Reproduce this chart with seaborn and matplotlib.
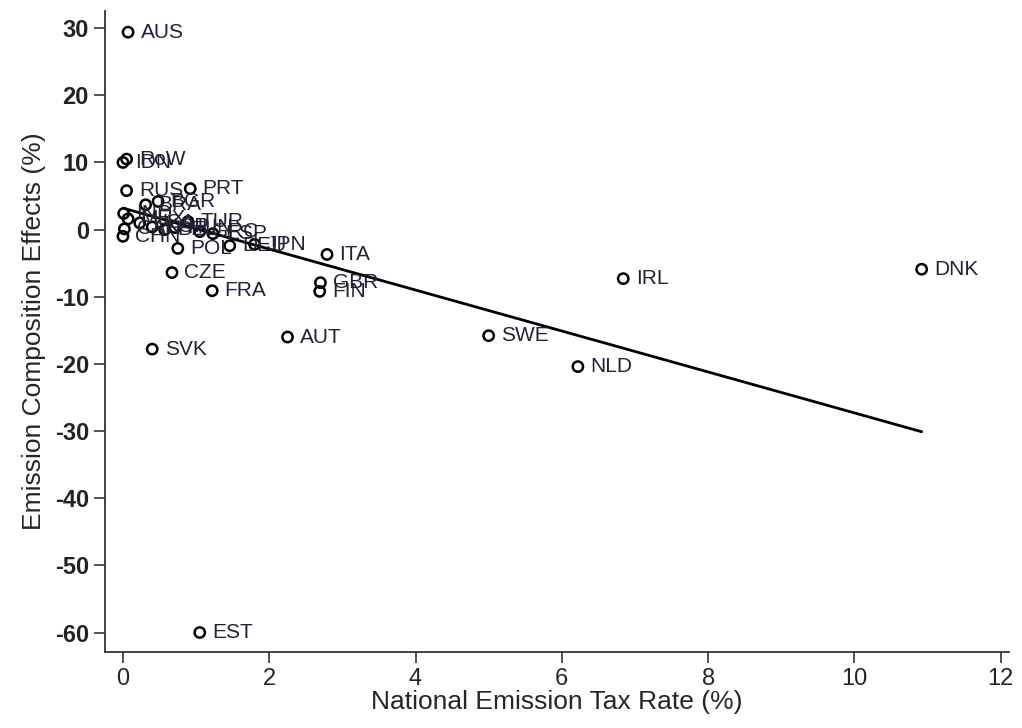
import matplotlib
matplotlib.use("Agg")
import matplotlib.pyplot as plt
import seaborn as sns
import pandas as pd

countries = ["AUS", "RoW", "IDN", "RUS", "PRT", "BGR", "BRA", "IND", "MEX", "CAN",
             "CHN", "USA", "KOR", "BEL", "HUN", "TUR", "GRC", "ESP", "POL", "DEU",
             "JPN", "ITA", "CZE", "FRA", "GBR", "FIN", "SVK", "AUT", "SWE", "NLD",
             "IRL", "DNK", "EST"]
tax_rate = [0.07, 0.05, 0.0, 0.05, 0.92, 0.48, 0.31, 0.01, 0.07, 0.02,
            0.0, 0.23, 0.40, 0.57, 0.71, 0.89, 1.05, 1.23, 0.75, 1.46,
            1.80, 2.79, 0.67, 1.22, 2.70, 2.69, 0.40, 2.25, 5.0, 6.22,
            6.84, 10.92, 1.05]
effect = [29.4, 10.5, 10.0, 5.8, 6.1, 4.2, 3.7, 2.4, 1.6, 0.1,
          -1.0, 1.0, 0.4, 0.0, 0.3, 1.2, -0.3, -0.6, -2.8, -2.4,
          -2.2, -3.7, -6.4, -9.1, -7.9, -9.2, -17.8, -16.0, -15.8, -20.4,
          -7.3, -5.9, -60.0]
fit_x = [0.0, 10.92]
fit_y = [3.2, -30.1]

x_ticks = [0, 2, 4, 6, 8, 10, 12]
y_ticks = [30, 20, 10, 0, -10, -20, -30, -40, -50, -60]

sns.set_theme(style="ticks")
plt.rcParams["font.family"] = ["Liberation Sans", "DejaVu Sans"]

df = pd.DataFrame({"tax": tax_rate, "eff": effect, "cty": countries})
fit = pd.DataFrame({"x": fit_x, "y": fit_y})

fig = plt.figure(figsize=(10.22, 7.28), dpi=100)
ax = fig.add_axes([0.1027, 0.1044, 0.885, 0.88])

sns.lineplot(data=fit, x="x", y="y", ax=ax, color="black", linewidth=2.0)
sns.scatterplot(data=df, x="tax", y="eff", ax=ax, marker="o", s=55,
                facecolor="none", edgecolor="black", linewidth=1.8, zorder=3)

for xi, yi, lab in zip(tax_rate, effect, countries):
    ax.annotate(lab, (xi, yi), xytext=(9, 0), textcoords="offset points",
                ha="left", va="center", fontsize=15, color="#222236")

ax.set_xlim(-0.246, 12.12)
ax.set_ylim(-62.9, 32.5)
ax.set_xticks(x_ticks)
ax.set_yticks(y_ticks)
ax.set_xticklabels([str(t) for t in x_ticks], fontsize=17)
ax.set_yticklabels([str(t) for t in y_ticks], fontsize=17, fontweight="bold",
                   color="#222222")
ax.set_xlabel("National Emission Tax Rate (%)", fontsize=19, labelpad=0)
ax.set_ylabel("Emission Composition Effects (%)", fontsize=19, labelpad=6)

sns.despine(ax=ax)
for sp in ["left", "bottom"]:
    ax.spines[sp].set_linewidth(1.3)
    ax.spines[sp].set_color("#333333")
ax.tick_params(axis="both", direction="out", length=8, width=1.2, color="#333333")

fig.savefig("out.png", dpi=100)
